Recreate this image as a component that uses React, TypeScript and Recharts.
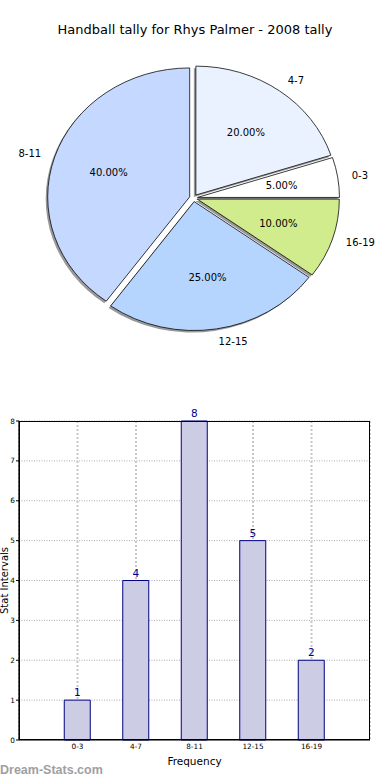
import {Bar, BarChart, CartesianGrid, Cell, LabelList, Pie, PieChart, XAxis, YAxis} from 'recharts';

const CATEGORIES = ['0-3', '4-7', '8-11', '12-15', '16-19'];
const TALLY = [1, 4, 8, 5, 2];
const Y_TICKS = [0, 1, 2, 3, 4, 5, 6, 7, 8];

// pie goes clockwise from 12 o'clock in this order
const PIE_ORDER = ['4-7', '0-3', '16-19', '12-15', '8-11'];
const PIE_COLORS = ['#eaf2ff', '#ffffff', '#d0ec8c', '#b5d5ff', '#c5d8ff'];

const FONT = '"DejaVu Sans", sans-serif';
const CX = 193.5;
const CY = 198;
const R = 142;
const ASPECT = 0.908; // matplotlib axes were not square, so the pie is a bit squashed
const EXPLODE = 4;
const RAD = Math.PI / 180;

const barData = CATEGORIES.map((label, i) => ({label, value: TALLY[i]}));
const pieData = PIE_ORDER.map(name => ({name, value: TALLY[CATEGORIES.indexOf(name)]}));

const total = pieData.reduce((s, d) => s + d.value, 0);
let acc = 0;
const midAngles = pieData.map(d => {
    const start = 90 - (acc / total) * 360;
    acc += d.value;
    const end = 90 - (acc / total) * 360;
    return (start + end) / 2;
});

function sliceTransform(mid: number, ox = 0, oy = 0) {
    const dx = EXPLODE * Math.cos(mid * RAD);
    const dy = -EXPLODE * Math.sin(mid * RAD) * ASPECT;
    return `translate(${CX + dx + ox} ${CY + dy + oy}) scale(1 ${ASPECT}) translate(${-CX} ${-CY})`;
}

function renderPieLabel(props: any) {
    const {cx, cy, midAngle, outerRadius, percent, name} = props;
    const cos = Math.cos(-midAngle * RAD);
    const sin = Math.sin(-midAngle * RAD);
    const ex = cx + EXPLODE * cos;
    const ey = cy + EXPLODE * sin * ASPECT;
    return (
        <g>
            <text
                x={ex + 1.1 * outerRadius * cos}
                y={ey + 1.1 * outerRadius * sin * ASPECT}
                textAnchor={cos >= 0 ? 'start' : 'end'}
                dominantBaseline="central"
                fontSize={10}
                fontFamily={FONT}
                fill="#000"
            >
                {name}
            </text>
            <text
                x={ex + 0.6 * outerRadius * cos}
                y={ey + 0.6 * outerRadius * sin * ASPECT}
                textAnchor="middle"
                dominantBaseline="central"
                fontSize={10}
                fontFamily={FONT}
                fill="#000"
            >
                {(percent * 100).toFixed(2)}%
            </text>
        </g>
    );
}

export default function App() {
    return (
        <div style={{position: 'absolute', left: 0, top: 0, width: 390, height: 780, background: '#fff'}}>
            <div style={{
                position: 'absolute', top: 20, width: 390, textAlign: 'center',
                fontFamily: FONT, fontSize: 13, lineHeight: '20px', color: '#000',
            }}>
                Handball tally for Rhys Palmer - 2008 tally
            </div>
            <div style={{position: 'absolute', top: 0, left: 0}}>
                <PieChart width={390} height={380} margin={{top: 0, right: 0, bottom: 0, left: 0}}>
                    {/* shadow */}
                    <Pie
                        data={pieData}
                        dataKey="value"
                        nameKey="name"
                        cx={CX}
                        cy={CY}
                        outerRadius={R}
                        startAngle={90}
                        endAngle={-270}
                        stroke="none"
                        isAnimationActive={false}
                        labelLine={false}
                        label={false}
                    >
                        {pieData.map((d, i) => (
                            <Cell key={d.name} fill="#333" fillOpacity={0.5}
                                  transform={sliceTransform(midAngles[i], -2, 2)}/>
                        ))}
                    </Pie>
                    <Pie
                        data={pieData}
                        dataKey="value"
                        nameKey="name"
                        cx={CX}
                        cy={CY}
                        outerRadius={R}
                        startAngle={90}
                        endAngle={-270}
                        stroke="#000"
                        strokeWidth={0.8}
                        isAnimationActive={false}
                        labelLine={false}
                        label={renderPieLabel}
                    >
                        {pieData.map((d, i) => (
                            <Cell key={d.name} fill={PIE_COLORS[i]} transform={sliceTransform(midAngles[i])}/>
                        ))}
                    </Pie>
                </PieChart>
            </div>
            <div style={{position: 'absolute', top: 390, left: 0}}>
                <BarChart width={390} height={390} data={barData} margin={{top: 31, right: 20, bottom: 10, left: 0}}>
                    <CartesianGrid vertical={false} stroke="#aaaaaa" strokeDasharray="1 1.5"/>
                    <CartesianGrid horizontal={false} stroke="#c8c8c8" strokeWidth={2} strokeDasharray="2 2"/>
                    <XAxis
                        dataKey="label"
                        padding={{left: 29.25, right: 29.25}}
                        height={30}
                        tickSize={2}
                        tickMargin={2}
                        tickLine={false}
                        axisLine={{stroke: '#000', strokeWidth: 1.2}}
                        tick={{fontSize: 7.3, fill: '#000', fontFamily: FONT}}
                        label={{value: 'Frequency', position: 'insideBottom', offset: 5, fontSize: 10.5, fill: '#000', fontFamily: FONT}}
                    />
                    <YAxis
                        domain={[0, 8]}
                        ticks={Y_TICKS}
                        width={19}
                        tickSize={3}
                        tickMargin={1}
                        axisLine={{stroke: '#000', strokeWidth: 1.2}}
                        tickLine={{stroke: '#000'}}
                        tick={{fontSize: 7.3, fill: '#000', fontFamily: FONT}}
                        label={{
                            value: 'Stat Intervals', angle: -90, position: 'insideLeft', offset: 4,
                            fontSize: 10, fill: '#000', fontFamily: FONT, style: {textAnchor: 'middle'},
                        }}
                    />
                    <Bar dataKey="value" fill="#ccccE4" stroke="#000080" strokeWidth={1} barSize={26}
                         isAnimationActive={false}>
                        <LabelList dataKey="value" position="top" offset={4} fill="#00008b" fontSize={10.5}
                                   fontFamily={FONT}/>
                    </Bar>
                </BarChart>
            </div>
            {/* frame round the plot area, like matplotlib's spines */}
            <div style={{
                position: 'absolute', left: 19, top: 421, width: 351, height: 319,
                border: '1px solid #000', boxSizing: 'border-box', pointerEvents: 'none',
            }}/>
            <div style={{
                position: 'absolute', left: 0, top: 762, fontFamily: '"Liberation Sans", Arial, sans-serif',
                fontWeight: 'bold', fontSize: 12.5, lineHeight: '16px', color: '#a0a0a0',
            }}>
                Dream-Stats.com
            </div>
        </div>
    );
}
